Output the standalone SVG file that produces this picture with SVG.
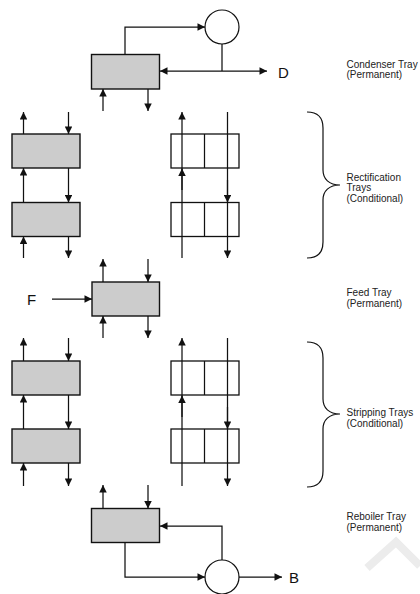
<svg xmlns="http://www.w3.org/2000/svg" width="420" height="594" viewBox="0 0 420 594">
  <defs>
    <style>
      .tray { fill: #cccccc; stroke: #111; stroke-width: 1.4; }
      .slot { fill: #ffffff; stroke: #111; stroke-width: 1.3; }
      .pipe { fill: none; stroke: #111; stroke-width: 1.25; }
      .vessel { fill: #ffffff; stroke: #111; stroke-width: 1.2; }
      .brace { fill: none; stroke: #111; stroke-width: 1.2; }
      .lbl { font-family: "Liberation Sans", Arial, sans-serif; font-size: 10px; fill: #222; }
      .stream { font-family: "Liberation Sans", Arial, sans-serif; font-size: 15px; fill: #111; }
    </style>
    <marker id="ah" viewBox="0 0 10 10" refX="10" refY="5" markerWidth="10" markerHeight="7.5" markerUnits="userSpaceOnUse" orient="auto-start-reverse">
      <path d="M0,0 L10,5 L0,10 z" fill="#111"/>
    </marker>
  </defs>

  <!-- faint background mark -->
  <polyline points="367,568 396,542 420,566" fill="none" stroke="#ececec" stroke-width="8"/>

  <!-- Condenser tray -->
  <g id="condenser">
    <rect class="tray" x="91.5" y="54.5" width="68" height="34.5"/>
    <circle class="vessel" cx="222" cy="27" r="17"/>
    <text class="stream" x="278" y="77.5">D</text>
  </g>

  <!-- Rectification trays -->
  <g id="rect-tray-1">
    <rect class="tray" x="12" y="134" width="68" height="34"/>
  </g>
  <g id="rect-tray-2">
    <rect class="tray" x="12" y="202.5" width="68" height="34"/>
  </g>
  <g id="rect-slot-1">
    <rect class="slot" x="171" y="134" width="68" height="34"/>
    <line class="pipe" x1="204.5" y1="134" x2="204.5" y2="168"/>
  </g>
  <g id="rect-slot-2">
    <rect class="slot" x="171" y="202.5" width="68" height="34"/>
    <line class="pipe" x1="204.5" y1="202.5" x2="204.5" y2="236.5"/>
  </g>

  <!-- Feed tray -->
  <g id="feed">
    <rect class="tray" x="92" y="282" width="67.5" height="34"/>
    <text class="stream" x="27" y="304.5">F</text>
  </g>

  <!-- Stripping trays -->
  <g id="strip-tray-1">
    <rect class="tray" x="12" y="361" width="68" height="34"/>
  </g>
  <g id="strip-tray-2">
    <rect class="tray" x="12" y="429" width="68" height="34"/>
  </g>
  <g id="strip-slot-1">
    <rect class="slot" x="171" y="361" width="68" height="34"/>
    <line class="pipe" x1="204.5" y1="361" x2="204.5" y2="395"/>
  </g>
  <g id="strip-slot-2">
    <rect class="slot" x="171" y="429" width="68" height="34"/>
    <line class="pipe" x1="204.5" y1="429" x2="204.5" y2="463"/>
  </g>

  <!-- Reboiler tray -->
  <g id="reboiler">
    <rect class="tray" x="91.5" y="508.5" width="68" height="34"/>
    <circle class="vessel" cx="222" cy="577" r="17"/>
    <text class="stream" x="289" y="582.5">B</text>
  </g>

  <!-- Section labels -->
  <g id="labels">
    <text class="lbl" x="346.5" y="67.5">Condenser Tray</text>
    <text class="lbl" x="346.5" y="78">(Permanent)</text>
    <text class="lbl" x="346.5" y="180.5">Rectification</text>
    <text class="lbl" x="346.5" y="191">Trays</text>
    <text class="lbl" x="346.5" y="201.5">(Conditional)</text>
    <text class="lbl" x="346.5" y="296">Feed Tray</text>
    <text class="lbl" x="346.5" y="306.5">(Permanent)</text>
    <text class="lbl" x="346.5" y="416">Stripping Trays</text>
    <text class="lbl" x="346.5" y="426.5">(Conditional)</text>
    <text class="lbl" x="346.5" y="520">Reboiler Tray</text>
    <text class="lbl" x="346.5" y="530.5">(Permanent)</text>
  </g>

  <!-- Braces -->
  <g id="braces">
    <path class="brace" d="M307,112 C318,112 323,118 323,128 L323,170 C323,179 329,185 340,185 C329,185 323,191 323,200 L323,242 C323,252 318,258 307,258"/>
    <path class="brace" d="M307,342 C318,342 323,348 323,358 L323,399 C323,408 329,414 340,414 C329,414 323,420 323,429 L323,471 C323,481 318,487 307,487"/>
  </g>

  <!-- Connectors -->
  <g id="connectors">
    <!-- condenser loop -->
    <polyline class="pipe" points="125,54.5 125,27 205,27" marker-end="url(#ah)"/>
    <line class="pipe" x1="222" y1="44" x2="222" y2="71"/>
    <line class="pipe" x1="160" y1="71" x2="267" y2="71" marker-start="url(#ah)" marker-end="url(#ah)"/>
    <line class="pipe" x1="103" y1="111" x2="103" y2="89" marker-end="url(#ah)"/>
    <line class="pipe" x1="148" y1="89" x2="148" y2="111" marker-end="url(#ah)"/>

    <!-- rectification, left column -->
    <line class="pipe" x1="23.5" y1="134" x2="23.5" y2="112" marker-end="url(#ah)"/>
    <line class="pipe" x1="68.5" y1="112" x2="68.5" y2="134" marker-end="url(#ah)"/>
    <line class="pipe" x1="23.5" y1="202.5" x2="23.5" y2="168" marker-end="url(#ah)"/>
    <line class="pipe" x1="68.5" y1="168" x2="68.5" y2="202.5" marker-end="url(#ah)"/>
    <line class="pipe" x1="23.5" y1="258" x2="23.5" y2="236.5" marker-end="url(#ah)"/>
    <line class="pipe" x1="68.5" y1="236.5" x2="68.5" y2="258" marker-end="url(#ah)"/>

    <!-- rectification, right column -->
    <line class="pipe" x1="182" y1="258" x2="182" y2="112" marker-end="url(#ah)"/>
    <line class="pipe" x1="182" y1="190" x2="182" y2="168.5" marker-end="url(#ah)"/>
    <line class="pipe" x1="227.5" y1="112" x2="227.5" y2="258" marker-end="url(#ah)"/>
    <line class="pipe" x1="227.5" y1="180" x2="227.5" y2="202.5" marker-end="url(#ah)"/>

    <!-- feed -->
    <line class="pipe" x1="52" y1="299" x2="92" y2="299" marker-end="url(#ah)"/>
    <line class="pipe" x1="103" y1="282" x2="103" y2="259" marker-end="url(#ah)"/>
    <line class="pipe" x1="148" y1="259" x2="148" y2="282" marker-end="url(#ah)"/>
    <line class="pipe" x1="103" y1="338" x2="103" y2="316" marker-end="url(#ah)"/>
    <line class="pipe" x1="148" y1="316" x2="148" y2="338" marker-end="url(#ah)"/>

    <!-- stripping, left column -->
    <line class="pipe" x1="23.5" y1="361" x2="23.5" y2="338" marker-end="url(#ah)"/>
    <line class="pipe" x1="68.5" y1="338" x2="68.5" y2="361" marker-end="url(#ah)"/>
    <line class="pipe" x1="23.5" y1="429" x2="23.5" y2="395" marker-end="url(#ah)"/>
    <line class="pipe" x1="68.5" y1="395" x2="68.5" y2="429" marker-end="url(#ah)"/>
    <line class="pipe" x1="23.5" y1="486" x2="23.5" y2="463" marker-end="url(#ah)"/>
    <line class="pipe" x1="68.5" y1="463" x2="68.5" y2="486" marker-end="url(#ah)"/>

    <!-- stripping, right column -->
    <line class="pipe" x1="182" y1="486" x2="182" y2="338" marker-end="url(#ah)"/>
    <line class="pipe" x1="182" y1="417" x2="182" y2="395.5" marker-end="url(#ah)"/>
    <line class="pipe" x1="227.5" y1="338" x2="227.5" y2="486" marker-end="url(#ah)"/>
    <line class="pipe" x1="227.5" y1="407" x2="227.5" y2="429" marker-end="url(#ah)"/>

    <!-- reboiler loop -->
    <line class="pipe" x1="103" y1="508.5" x2="103" y2="485" marker-end="url(#ah)"/>
    <line class="pipe" x1="148" y1="485" x2="148" y2="508.5" marker-end="url(#ah)"/>
    <polyline class="pipe" points="125,542.5 125,577 205,577" marker-end="url(#ah)"/>
    <polyline class="pipe" points="222,560 222,526 160,526" marker-end="url(#ah)"/>
    <line class="pipe" x1="239" y1="577" x2="282" y2="577" marker-end="url(#ah)"/>
  </g>
</svg>
